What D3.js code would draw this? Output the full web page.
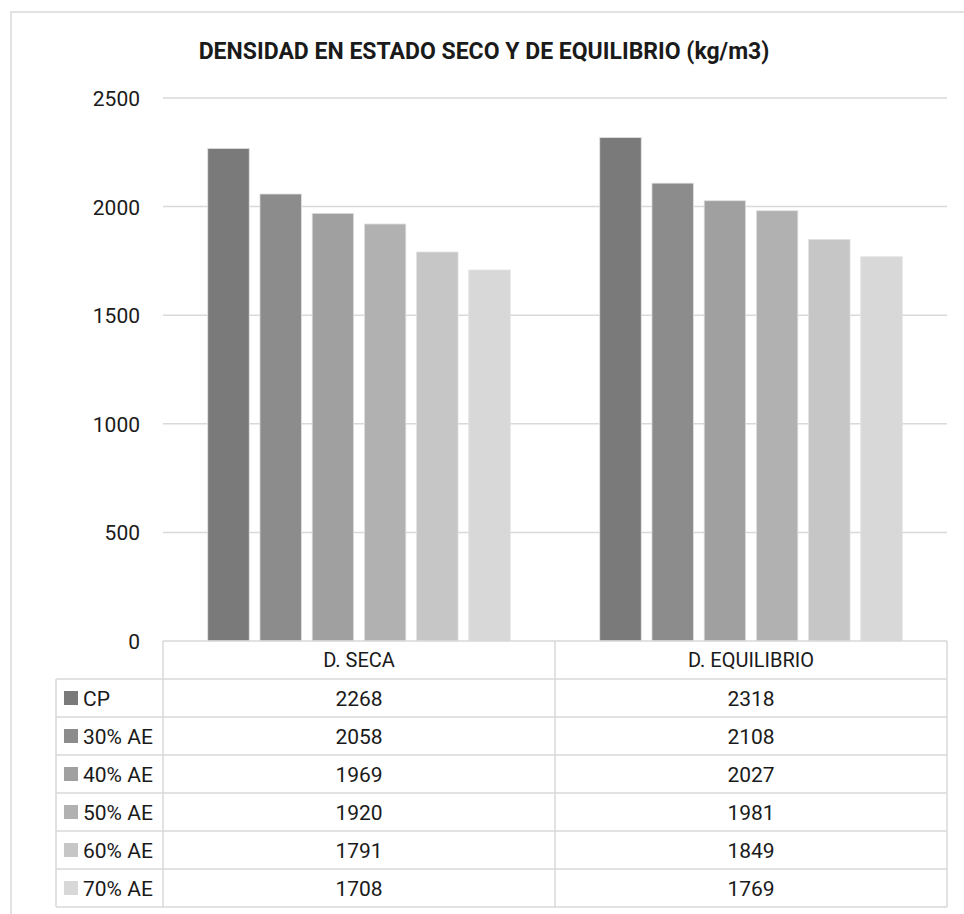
<!DOCTYPE html>
<html>
<head>
<meta charset="utf-8">
<script src="https://cdn.jsdelivr.net/npm/d3@7"></script>
<style>
  html, body { margin: 0; padding: 0; background: #fff; }
  svg { display: block; }
  text { font-family: Roboto, "Noto Sans", sans-serif; fill: #1a1a1a; }
</style>
</head>
<body>
<svg id="chart" width="964" height="914"></svg>
<script>
// Density values (kg/m3) per mix, for each measurement
const categories = ["D. SECA", "D. EQUILIBRIO"];
const series = ["CP", "30% AE", "40% AE", "50% AE", "60% AE", "70% AE"];
const dSeca = [2268, 2058, 1969, 1920, 1791, 1708];
const dEquilibrio = [2318, 2108, 2027, 1981, 1849, 1769];
const yTicks = [0, 500, 1000, 1500, 2000, 2500];
const colors = ["#7a7a7a", "#8c8c8c", "#a0a0a0", "#b1b1b1", "#c6c6c6", "#d8d8d8"];
const title = "DENSIDAD EN ESTADO SECO Y DE EQUILIBRIO (kg/m3)";

const valuesByCategory = [dSeca, dEquilibrio];

const svg = d3.select("#chart");
const gridColor = "#d9d9d9";

// chart area frame (extends past the right/bottom edge of the page)
svg.append("rect")
  .attr("x", 11).attr("y", 12)
  .attr("width", 976).attr("height", 920)
  .attr("fill", "none").attr("stroke", gridColor).attr("stroke-width", 1.5);

// title
svg.append("text")
  .attr("x", 484).attr("y", 59)
  .attr("text-anchor", "middle")
  .style("font-weight", "bold")
  .style("font-size", "23px")
  .text(title);

// plot geometry
const plotLeft = 163, plotRight = 947, plotTop = 98, plotBottom = 641;

const y = d3.scaleLinear().domain([0, 2500]).range([plotBottom, plotTop]);
const x0 = d3.scaleBand().domain(categories).range([plotLeft, plotRight]).padding(0);
const x1 = d3.scaleBand().domain(series).range([0, x0.bandwidth()])
  .paddingInner(0.205).paddingOuter(0.857);
const color = d3.scaleOrdinal().domain(series).range(colors);

// gridlines and tick labels
const yAxis = d3.axisLeft(y).tickValues(yTicks).tickFormat(d3.format("d"))
  .tickSize(0).tickPadding(0);
const yg = svg.append("g").attr("transform", `translate(140,0)`).call(yAxis);
yg.select(".domain").remove();
yg.selectAll("text")
  .style("font-family", "Roboto, 'Noto Sans', sans-serif")
  .style("font-size", "21px")
  .attr("fill", "#1a1a1a")
  .attr("dy", "0.36em");

svg.append("g")
  .selectAll("line")
  .data(yTicks.filter(d => d > 0))
  .join("line")
  .attr("x1", plotLeft).attr("x2", plotRight)
  .attr("y1", d => y(d)).attr("y2", d => y(d))
  .attr("stroke", gridColor).attr("stroke-width", 1.5);

// bars
const groups = svg.append("g")
  .selectAll("g")
  .data(categories.map((c, i) => ({ cat: c, vals: valuesByCategory[i] })))
  .join("g")
  .attr("transform", d => `translate(${x0(d.cat)},0)`);

groups.selectAll("rect")
  .data(d => d.vals.map((v, j) => ({ key: series[j], value: v })))
  .join("rect")
  .attr("x", d => x1(d.key))
  .attr("width", x1.bandwidth())
  .attr("y", d => y(d.value))
  .attr("height", d => y(0) - y(d.value))
  .attr("fill", d => color(d.key))
  .attr("stroke", "#e2e2e2")
  .attr("stroke-width", 0.8);

// data table below the plot
const tableLeft = 56;
const rowH = (907 - plotBottom) / (series.length + 1);
const rowY = i => plotBottom + rowH * (i + 1); // top of data row i
const table = svg.append("g");

function hline(x1p, x2p, yp) {
  table.append("line").attr("x1", x1p).attr("x2", x2p).attr("y1", yp).attr("y2", yp)
    .attr("stroke", gridColor).attr("stroke-width", 1.5);
}
function vline(xp, y1p, y2p) {
  table.append("line").attr("x1", xp).attr("x2", xp).attr("y1", y1p).attr("y2", y2p)
    .attr("stroke", gridColor).attr("stroke-width", 1.5);
}

// header row top edge and separators
hline(plotLeft, plotRight, plotBottom);
for (let i = 0; i <= series.length; i++) hline(tableLeft, plotRight, rowY(i));
vline(tableLeft, rowY(0), rowY(series.length));
vline(plotLeft, plotBottom, rowY(series.length));
categories.forEach(c => vline(x0(c) + x0.bandwidth(), plotBottom, rowY(series.length)));

// header labels
table.selectAll("text.hdr")
  .data(categories)
  .join("text")
  .attr("class", "hdr")
  .attr("x", d => x0(d) + x0.bandwidth() / 2)
  .attr("y", plotBottom + rowH / 2)
  .attr("dy", "0.36em")
  .attr("text-anchor", "middle")
  .style("font-size", "20px")
  .text(d => d);

// legend keys + values
series.forEach((s, i) => {
  const cy = rowY(i) + rowH / 2;
  table.append("rect")
    .attr("x", 64).attr("y", cy - 7)
    .attr("width", 14).attr("height", 14)
    .attr("fill", color(s));
  table.append("text")
    .attr("x", 83).attr("y", cy).attr("dy", "0.36em")
    .style("font-size", "21px")
    .text(s);
  categories.forEach((c, k) => {
    table.append("text")
      .attr("x", x0(c) + x0.bandwidth() / 2)
      .attr("y", cy).attr("dy", "0.36em")
      .attr("text-anchor", "middle")
      .style("font-size", "21px")
      .text(valuesByCategory[k][i]);
  });
});
</script>
</body>
</html>
